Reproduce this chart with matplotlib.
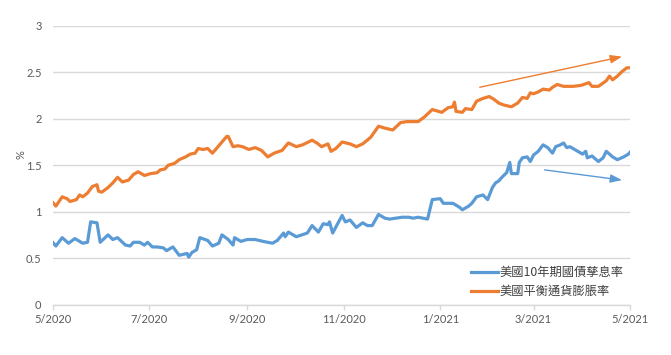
import matplotlib
matplotlib.use("Agg")
import matplotlib.pyplot as plt
import pandas as pd

plt.rcParams['font.family'] = ['Lato', 'Noto Sans CJK TC', 'DejaVu Sans']

series_names = ["美國10年期國債孳息率", "美國平衡通貨膨脹率"]

orange_dates = [
    "2020-05-01", "2020-05-03", "2020-05-07", "2020-05-10", "2020-05-12", "2020-05-16",
    "2020-05-18", "2020-05-20", "2020-05-23", "2020-05-26", "2020-05-29", "2020-05-30",
    "2020-06-01", "2020-06-05", "2020-06-08", "2020-06-11", "2020-06-14", "2020-06-18",
    "2020-06-21", "2020-06-24", "2020-06-28", "2020-07-02", "2020-07-06", "2020-07-08",
    "2020-07-11", "2020-07-13", "2020-07-17", "2020-07-20", "2020-07-24", "2020-07-27",
    "2020-07-30", "2020-08-01", "2020-08-04", "2020-08-07", "2020-08-10", "2020-08-15",
    "2020-08-19", "2020-08-20", "2020-08-23", "2020-08-26", "2020-08-29", "2020-09-02",
    "2020-09-06", "2020-09-10", "2020-09-14", "2020-09-18", "2020-09-23", "2020-09-27",
    "2020-10-02", "2020-10-06", "2020-10-12", "2020-10-15", "2020-10-18", "2020-10-22",
    "2020-10-24", "2020-10-27", "2020-10-31", "2020-11-05", "2020-11-09", "2020-11-13",
    "2020-11-18", "2020-11-23", "2020-11-27", "2020-12-02", "2020-12-07", "2020-12-11",
    "2020-12-18", "2020-12-22", "2020-12-27", "2021-01-02", "2021-01-06", "2021-01-09",
    "2021-01-10", "2021-01-11", "2021-01-15", "2021-01-17", "2021-01-21", "2021-01-24",
    "2021-01-28", "2021-02-01", "2021-02-04", "2021-02-07", "2021-02-10", "2021-02-15",
    "2021-02-19", "2021-02-22", "2021-02-25", "2021-02-27", "2021-03-01", "2021-03-04",
    "2021-03-07", "2021-03-11", "2021-03-13", "2021-03-16", "2021-03-20", "2021-03-26",
    "2021-03-31", "2021-04-05", "2021-04-07", "2021-04-11", "2021-04-16", "2021-04-18",
    "2021-04-20", "2021-04-23", "2021-04-26", "2021-04-29", "2021-05-01",
]
orange_values = [
    1.10, 1.06, 1.16, 1.14, 1.11, 1.13,
    1.18, 1.16, 1.20, 1.27, 1.29, 1.22,
    1.21, 1.26, 1.31, 1.37, 1.32, 1.34,
    1.40, 1.43, 1.39, 1.41, 1.42, 1.45,
    1.46, 1.50, 1.52, 1.56, 1.59, 1.62,
    1.63, 1.68, 1.67, 1.68, 1.63, 1.73,
    1.81, 1.81, 1.70, 1.71, 1.70, 1.67,
    1.69, 1.66, 1.59, 1.63, 1.66, 1.74,
    1.70, 1.72, 1.77, 1.74, 1.70, 1.73,
    1.65, 1.68, 1.75, 1.73, 1.70, 1.73,
    1.80, 1.92, 1.90, 1.88, 1.96, 1.97,
    1.97, 2.02, 2.10, 2.07, 2.12, 2.13,
    2.18, 2.08, 2.07, 2.11, 2.10, 2.19,
    2.22, 2.24, 2.21, 2.17, 2.15, 2.13,
    2.17, 2.23, 2.22, 2.28, 2.27, 2.29,
    2.32, 2.31, 2.34, 2.37, 2.35, 2.35,
    2.36, 2.39, 2.35, 2.35, 2.41, 2.46,
    2.42, 2.46, 2.51, 2.55, 2.55,
]

blue_dates = [
    "2020-05-01", "2020-05-03", "2020-05-07", "2020-05-11", "2020-05-15", "2020-05-18",
    "2020-05-20", "2020-05-23", "2020-05-25", "2020-05-29", "2020-05-31", "2020-06-05",
    "2020-06-08", "2020-06-11", "2020-06-16", "2020-06-19", "2020-06-21", "2020-06-25",
    "2020-06-28", "2020-06-30", "2020-07-03", "2020-07-06", "2020-07-10", "2020-07-12",
    "2020-07-16", "2020-07-20", "2020-07-25", "2020-07-26", "2020-07-28", "2020-07-31",
    "2020-08-02", "2020-08-07", "2020-08-10", "2020-08-14", "2020-08-16", "2020-08-20",
    "2020-08-23", "2020-08-24", "2020-08-28", "2020-09-01", "2020-09-06", "2020-09-11",
    "2020-09-17", "2020-09-20", "2020-09-24", "2020-09-25", "2020-09-27", "2020-10-02",
    "2020-10-09", "2020-10-12", "2020-10-16", "2020-10-19", "2020-10-22", "2020-10-23",
    "2020-10-25", "2020-10-31", "2020-11-02", "2020-11-05", "2020-11-09", "2020-11-13",
    "2020-11-16", "2020-11-19", "2020-11-23", "2020-11-27", "2020-11-30", "2020-12-08",
    "2020-12-12", "2020-12-15", "2020-12-18", "2020-12-24", "2020-12-27", "2021-01-01",
    "2021-01-03", "2021-01-05", "2021-01-09", "2021-01-13", "2021-01-15", "2021-01-19",
    "2021-01-21", "2021-01-24", "2021-01-28", "2021-01-31", "2021-02-03", "2021-02-05",
    "2021-02-07", "2021-02-09", "2021-02-12", "2021-02-14", "2021-02-15", "2021-02-19",
    "2021-02-20", "2021-02-22", "2021-02-25", "2021-02-27", "2021-03-01", "2021-03-04",
    "2021-03-07", "2021-03-10", "2021-03-13", "2021-03-15", "2021-03-18", "2021-03-20",
    "2021-03-22", "2021-03-24", "2021-03-27", "2021-04-01", "2021-04-03", "2021-04-04",
    "2021-04-07", "2021-04-11", "2021-04-14", "2021-04-16", "2021-04-20", "2021-04-23",
    "2021-04-27", "2021-04-30", "2021-05-01",
]
blue_values = [
    0.67, 0.63, 0.72, 0.66, 0.71, 0.68,
    0.66, 0.67, 0.89, 0.88, 0.67, 0.75,
    0.70, 0.72, 0.64, 0.63, 0.67, 0.67,
    0.64, 0.67, 0.62, 0.62, 0.61, 0.58,
    0.62, 0.53, 0.55, 0.51, 0.56, 0.59,
    0.72, 0.69, 0.63, 0.66, 0.75, 0.70,
    0.64, 0.72, 0.68, 0.70, 0.70, 0.68,
    0.66, 0.69, 0.77, 0.73, 0.78, 0.73,
    0.77, 0.85, 0.78, 0.87, 0.86, 0.89,
    0.77, 0.96, 0.89, 0.91, 0.83, 0.88,
    0.85, 0.85, 0.97, 0.93, 0.92, 0.94,
    0.94, 0.93, 0.94, 0.92, 1.13, 1.14,
    1.09, 1.09, 1.09, 1.05, 1.02, 1.06,
    1.09, 1.16, 1.18, 1.13, 1.26, 1.31,
    1.33, 1.37, 1.42, 1.53, 1.41, 1.41,
    1.53, 1.58, 1.59, 1.54, 1.61, 1.65,
    1.72, 1.69, 1.63, 1.70, 1.72, 1.74,
    1.69, 1.70, 1.67, 1.62, 1.65, 1.58,
    1.60, 1.54, 1.58, 1.65, 1.59, 1.56,
    1.59, 1.62, 1.64,
]

y_ticks = [0, 0.5, 1, 1.5, 2, 2.5, 3]
y_tick_labels = ["0", "0.5", "1", "1.5", "2", "2.5", "3"]
x_tick_dates = ["2020-05-01", "2020-07-01", "2020-09-01", "2020-11-01",
                "2021-01-01", "2021-03-01", "2021-05-01"]
x_tick_labels = ["5/2020", "7/2020", "9/2020", "11/2020", "1/2021", "3/2021", "5/2021"]

orange_arrow = (("2021-01-26", 2.34), ("2021-04-26", 2.67))
blue_arrow = (("2021-03-08", 1.45), ("2021-04-26", 1.34))

BLUE = "#5B9BD5"
ORANGE = "#ED7D31"
TEXT = "#595959"
GRID = "#D9D9D9"

fig = plt.figure(figsize=(6.71, 3.55), dpi=100)
ax = fig.add_axes([52.7 / 671, 1 - 304.5 / 355, (630 - 52.7) / 671, (304.5 - 26) / 355])

bd = pd.to_datetime(blue_dates)
od = pd.to_datetime(orange_dates)
ax.plot(bd, blue_values, color=BLUE, lw=2.3, solid_joinstyle='round', label=series_names[0], zorder=3)
ax.plot(od, orange_values, color=ORANGE, lw=2.3, solid_joinstyle='round', label=series_names[1], zorder=3)

for (s, e), c in ((orange_arrow, ORANGE), (blue_arrow, BLUE)):
    ax.annotate("", xy=(pd.Timestamp(e[0]), e[1]), xytext=(pd.Timestamp(s[0]), s[1]),
                arrowprops=dict(arrowstyle="-|>,head_length=0.7,head_width=0.25", color=c, lw=1.0,
                                shrinkA=0, shrinkB=0), zorder=4)

ax.set_ylim(0, 3)
ax.set_xlim(pd.Timestamp(x_tick_dates[0]), pd.Timestamp(x_tick_dates[-1]))
ax.set_yticks(y_ticks)
ax.set_yticklabels(y_tick_labels)
ax.set_xticks(pd.to_datetime(x_tick_dates))
ax.set_xticklabels(x_tick_labels)

ax.grid(axis='y', color=GRID, lw=1.0)
ax.set_axisbelow(True)
for sp in ['top', 'right', 'left']:
    ax.spines[sp].set_visible(False)
ax.spines['bottom'].set_color(GRID)
ax.spines['bottom'].set_linewidth(1.0)
ax.tick_params(axis='y', length=0, pad=8, labelsize=8, labelcolor=TEXT)
ax.tick_params(axis='x', length=3.5, width=1.0, color=GRID, pad=3, labelsize=8, labelcolor=TEXT, direction='out')

ax.set_ylabel("%", fontsize=8, color=TEXT)
ax.yaxis.set_label_coords(-0.045, 0.537)

leg = fig.legend(loc='upper left', bbox_to_anchor=(471 / 671, 1 - 266 / 355), frameon=False,
                 prop={'family': ['Noto Sans CJK TC', 'DejaVu Sans'], 'size': 8.8},
                 handlelength=2.2, handletextpad=0.15, labelspacing=0.5, borderpad=0, borderaxespad=0)
for t in leg.get_texts():
    t.set_color("#404040")

fig.savefig("out.png", dpi=100)
